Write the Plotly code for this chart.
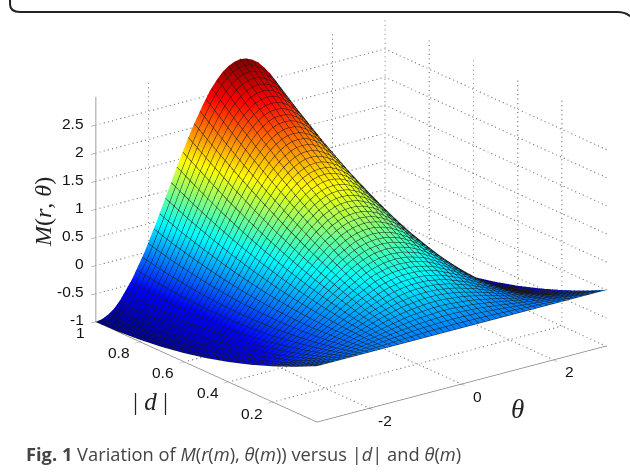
import plotly.graph_objects as go

# Values
theta = [-3.1416, -3.0107, -2.8798, -2.7489, -2.618, -2.3562, -2.0944, -1.8326, -1.5708, -1.309, -1.0472, -0.7854,
         -0.6545, -0.5236, -0.3927, -0.2618, -0.1309,
         0.0,
         0.1309, 0.2618, 0.3927, 0.5236, 0.6545,
         0.7854, 1.0472, 1.309, 1.5708, 1.8326, 2.0944, 2.3562, 2.618, 2.7489, 2.8798, 3.0107, 3.1416]
d_values = [0.0, 0.1, 0.2, 0.3, 0.4, 0.5, 0.6, 0.7, 0.8, 0.9, 1.0]

m_d00 = [0.0] * 35
m_d01 = [-.19,-.19,-.18,-.17,-.16,-.13,-.09,-.04,.01,.06,.11,.15,.17,.18,.19,.20,.21,.21,.21,.20,.19,.18,.17,.15,.11,.06,.01,-.04,-.09,-.13,-.16,-.17,-.18,-.19,-.19]
m_d02 = [-.36,-.36,-.35,-.33,-.31,-.24,-.16,-.06,.04,.14,.24,.32,.36,.39,.41,.43,.44,.44,.44,.43,.41,.39,.36,.32,.24,.14,.04,-.06,-.16,-.24,-.31,-.33,-.35,-.36,-.36]
m_d03 = [-.51,-.50,-.49,-.46,-.43,-.33,-.21,-.07,.09,.25,.39,.51,.57,.61,.64,.67,.68,.69,.68,.67,.64,.61,.57,.51,.39,.25,.09,-.07,-.21,-.33,-.43,-.46,-.49,-.50,-.51]
m_d04 = [-.64,-.63,-.61,-.58,-.53,-.41,-.24,-.05,.16,.37,.56,.73,.79,.85,.90,.93,.95,.96,.95,.93,.90,.85,.79,.73,.56,.37,.16,-.05,-.24,-.41,-.53,-.58,-.61,-.63,-.64]
m_d05 = [-.75,-.74,-.72,-.67,-.62,-.46,-.25,-.01,.25,.51,.75,.96,1.04,1.12,1.17,1.22,1.24,1.25,1.24,1.22,1.17,1.12,1.04,.96,.75,.51,.25,-.01,-.25,-.46,-.62,-.67,-.72,-.74,-.75]
m_d06 = [-.84,-.83,-.80,-.75,-.68,-.49,-.24,.05,.36,.67,.96,1.21,1.31,1.40,1.47,1.52,1.55,1.56,1.55,1.52,1.47,1.40,1.31,1.21,.96,.67,.36,.05,-.24,-.49,-.68,-.75,-.80,-.83,-.84]
m_d07 = [-.91,-.90,-.86,-.80,-.72,-.50,-.21,.13,.49,.85,1.19,1.48,1.60,1.70,1.78,1.84,1.88,1.89,1.88,1.84,1.78,1.70,1.60,1.48,1.19,.85,.49,.13,-.21,-.50,-.72,-.80,-.86,-.90,-.91]
m_d08 = [-.96,-.95,-.91,-.84,-.75,-.49,-.16,.23,.64,1.05,1.44,1.77,1.91,2.03,2.12,2.19,2.23,2.24,2.23,2.19,2.12,2.03,1.91,1.77,1.44,1.05,.64,.23,-.16,-.49,-.75,-.84,-.91,-.95,-.96]
m_d09 = [-.99,-.97,-.93,-.85,-.75,-.46,-.09,.34,.81,1.28,1.71,2.08,2.24,2.37,2.47,2.55,2.59,2.61,2.59,2.55,2.47,2.37,2.24,2.08,1.71,1.28,.81,.34,-.09,-.46,-.75,-.85,-.93,-.97,-.99]
m_d10 = [-1.0,-.98,-.93,-.85,-.73,-.41,0.0,.48,1.0,1.52,2.0,2.41,2.59,2.73,2.85,2.93,2.98,3.0,2.98,2.93,2.85,2.73,2.59,2.41,2.0,1.52,1.0,.48,0.0,-.41,-.73,-.85,-.93,-.98,-1.0]
m_values = [m_d00, m_d01, m_d02, m_d03, m_d04, m_d05, m_d06, m_d07, m_d08, m_d09, m_d10]

theta_ticks = [-2, 0, 2]
d_ticks = [0.2, 0.4, 0.6, 0.8, 1]
m_ticks = [-1, -0.5, 0, 0.5, 1, 1.5, 2, 2.5]

th0, th1 = theta[0], theta[-1]
d0, d1 = d_values[0], d_values[-1]
m0, m1 = -1, 3

jet = [[0, "rgb(0,0,143)"], [0.125, "rgb(0,0,255)"], [0.375, "rgb(0,255,255)"],
       [0.625, "rgb(255,255,0)"], [0.875, "rgb(255,0,0)"], [1, "rgb(128,0,0)"]]

fig = go.Figure()
fig.add_surface(
    x=theta, y=d_values, z=m_values, colorscale=jet, cmin=m0, cmax=m1, showscale=False, hoverinfo="skip",
    lighting=dict(ambient=1, diffuse=0, specular=0, roughness=1, fresnel=0),
    contours=dict(
        x=dict(show=True, start=th0, end=th1, size=(th1 - th0) / 50, color="rgba(0,0,0,0.9)", width=1, highlight=False),
        y=dict(show=True, start=d0, end=d1, size=(d1 - d0) / 50, color="rgba(0,0,0,0.9)", width=1, highlight=False),
        z=dict(highlight=False),
    ),
)

# dotted grid on the back walls and the floor
gx, gy, gz = [], [], []
def seg(a, b, n):
    for i in range(n + 1):
        f = i / n
        gx.append(a[0] + (b[0] - a[0]) * f)
        gy.append(a[1] + (b[1] - a[1]) * f)
        gz.append(a[2] + (b[2] - a[2]) * f)
for m in m_ticks:
    seg((th0, d1, m), (th1, d1, m), 70)
    seg((th1, d1, m), (th1, d0, m), 58)
for t in theta_ticks:
    seg((t, d1, m0), (t, d1, m1), 50)
    seg((t, d0, m0), (t, d1, m0), 58)
for v in d_ticks:
    seg((th1, v, m0), (th1, v, m1), 50)
    seg((th0, v, m0), (th1, v, m0), 70)
fig.add_scatter3d(x=gx, y=gy, z=gz, mode="markers", hoverinfo="skip", showlegend=False,
                  marker=dict(color="#8a8a8a", size=0.8, opacity=0.9, line=dict(width=0)))

axis_common = dict(showgrid=False, showbackground=False, zeroline=False, showspikes=False, showline=True,
                   linecolor="#7f7f7f", linewidth=1.5, ticks="outside", ticklen=6, tickcolor="#7f7f7f",
                   showticklabels=False, title=dict(text=""))

tick_font = dict(family="Liberation Sans", size=15.5, color="#111")
label_x = th0 + 0.001
scene_labels = []
for m in m_ticks:
    scene_labels.append(dict(x=label_x, y=d1, z=m, text=f"{m:g}", showarrow=False, xanchor="right", yanchor="middle",
                             xshift=-10, yshift=2, font=tick_font))
for v in d_ticks:
    scene_labels.append(dict(x=label_x, y=v, z=m0, text=f"{v:g}", showarrow=False, xanchor="center", yanchor="middle",
                             xshift=-15 if v == 1 else -21, yshift=-11, font=tick_font))
for t in theta_ticks:
    scene_labels.append(dict(x=t, y=d0, z=m0, text=f"{t:g}", showarrow=False, xanchor="center", yanchor="middle",
                             xshift=16, yshift=-12, font=tick_font))

fig.update_layout(
    width=630, height=474, margin=dict(l=0, r=0, t=0, b=0), paper_bgcolor="white", showlegend=False,
    scene=dict(
        domain=dict(x=[72 / 630, 1], y=[24 / 474, 1]),
        xaxis=dict(range=[th0, th1], tickvals=theta_ticks, **axis_common),
        yaxis=dict(range=[d0, d1], tickvals=d_ticks, **axis_common),
        zaxis=dict(range=[m0, m1], tickvals=m_ticks, **axis_common),
        aspectmode="manual", aspectratio=dict(x=1.615, y=1.622, z=1.065),
        camera=dict(projection=dict(type="orthographic"), eye=dict(x=-1.02, y=-1.34, z=0.6034),
                    center=dict(x=0, y=0, z=-0.0166), up=dict(x=0, y=0, z=1)),
        annotations=scene_labels,
    ),
    shapes=[dict(type="path", xref="paper", yref="paper", line=dict(color="#222", width=2),
                 path="M 0.0159,1.05 L 0.0159,0.9915 Q 0.0159,0.9747 0.0317,0.9747 L 0.98,0.9747 Q 1.0,0.9747 1.01,0.95 L 1.01,-0.02")],
    annotations=[
        dict(text="<b>Fig. 1</b> Variation of <i>M</i>(<i>r</i>(<i>m</i>), <i>θ</i>(<i>m</i>)) versus |<i>d</i>| and <i>θ</i>(<i>m</i>)",
             x=24 / 630, y=(474 - 453.5) / 474, xref="paper", yref="paper", xanchor="left", yanchor="middle",
             showarrow=False, font=dict(family="Open Sans", size=18.3, color="#444")),
        dict(text="<i>M</i>(<i>r</i>, <i>θ</i>)", x=43 / 630, y=(474 - 212) / 474, xref="paper", yref="paper",
             xanchor="center", yanchor="middle", textangle=-90, showarrow=False,
             font=dict(family="Liberation Serif", size=24, color="#222")),
        dict(text="| <i>d</i> |", x=150 / 630, y=(474 - 401) / 474, xref="paper", yref="paper",
             xanchor="center", yanchor="middle", showarrow=False,
             font=dict(family="Liberation Serif", size=25, color="#222")),
        dict(text="<i>θ</i>", x=517 / 630, y=(474 - 409) / 474, xref="paper", yref="paper",
             xanchor="center", yanchor="middle", showarrow=False,
             font=dict(family="Liberation Serif", size=27, color="#222")),
    ],
)
fig.write_html("out.html", config=dict(displayModeBar=False), post_script="document.body.style.margin='0';")
